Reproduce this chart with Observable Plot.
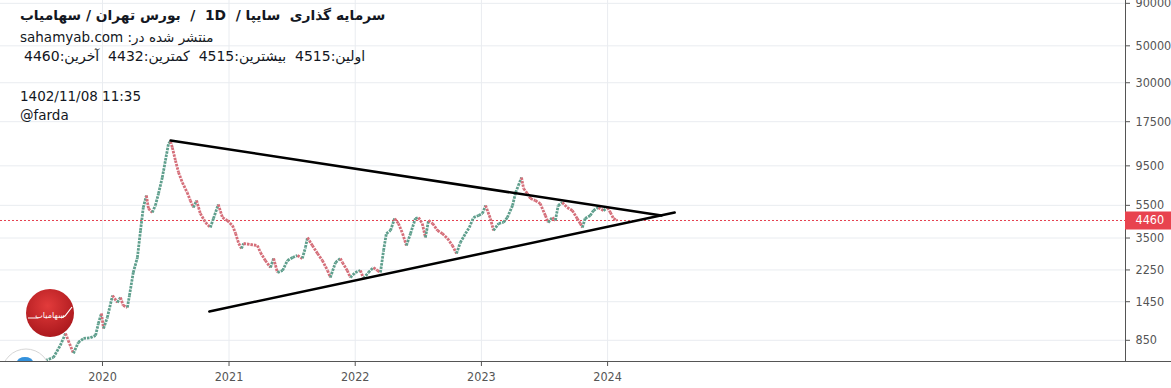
<!DOCTYPE html>
<html><head><meta charset="utf-8">
<script src="https://cdn.jsdelivr.net/npm/d3@7"></script>
<script src="https://cdn.jsdelivr.net/npm/@observablehq/plot@0.6"></script>
<style>
html,body{margin:0;padding:0;background:#fff;}
#wrap{position:relative;width:1171px;height:388px;overflow:hidden;}
.t{position:absolute;left:20px;white-space:pre;color:#131722;font-family:"DejaVu Sans",sans-serif;font-size:13.5px;line-height:18px;}
.rtl{direction:rtl;}
</style></head><body><div id="wrap"></div>
<script>
// ---- data ----
const dates = ["2019-07-20","2019-08-12","2019-09-01","2019-09-16","2019-09-24","2019-10-09","2019-10-23","2019-11-07","2019-11-27","2019-12-12","2019-12-20","2019-12-29",
"2020-01-04","2020-01-15","2020-01-30","2020-02-13","2020-02-22","2020-03-01","2020-03-13","2020-03-19","2020-03-30","2020-04-11","2020-04-20","2020-04-28","2020-05-07","2020-05-13","2020-05-24","2020-06-02","2020-06-11","2020-06-22","2020-07-01","2020-07-10","2020-07-16","2020-07-21","2020-07-30","2020-08-08","2020-08-19","2020-09-02","2020-09-11","2020-09-20","2020-09-29","2020-10-10","2020-10-25","2020-11-08","2020-11-17","2020-12-01","2020-12-13","2020-12-27",
"2021-01-11","2021-01-20","2021-01-29","2021-02-06","2021-02-12","2021-03-04","2021-03-24","2021-04-02","2021-04-16","2021-05-01","2021-05-10","2021-05-21","2021-06-05","2021-06-19","2021-07-04","2021-07-18","2021-08-01","2021-08-10","2021-08-16","2021-08-30","2021-09-14","2021-09-28","2021-10-13","2021-10-21","2021-11-05","2021-11-19","2021-11-25","2021-12-09","2021-12-18",
"2022-01-01","2022-01-16","2022-01-25","2022-02-08","2022-02-23","2022-03-06","2022-03-15","2022-03-24","2022-04-01","2022-04-13","2022-04-25","2022-05-06","2022-05-18","2022-05-29","2022-06-10","2022-06-24","2022-07-03","2022-07-14","2022-07-23","2022-08-01","2022-08-13","2022-08-27","2022-09-10","2022-09-25","2022-10-09","2022-10-21","2022-11-01","2022-11-16","2022-11-27","2022-12-09","2022-12-24",
"2023-01-04","2023-01-13","2023-01-27","2023-02-05","2023-02-20","2023-03-06","2023-03-17","2023-04-01","2023-04-10","2023-04-18","2023-04-27","2023-05-03","2023-05-14","2023-05-23","2023-06-06","2023-06-20","2023-07-05","2023-07-13","2023-07-25","2023-08-03","2023-08-11","2023-08-23","2023-09-06","2023-09-21","2023-10-05","2023-10-14","2023-10-20","2023-10-28","2023-11-12","2023-11-21","2023-12-05","2023-12-20",
"2024-01-01","2024-01-09","2024-01-18","2024-01-28"];
const closes = [643,670,792,934,848,709,825,872,880,909,1073,1233,
1001,1166,1581,1435,1537,1376,1338,1581,2172,2673,3884,5338,6302,5265,4982,5488,6479,8083,10226,12937,13300,12240,10226,8663,7545,6569,5881,5338,5881,4913,4338,4049,4585,5564,4648,4460,
4162,3725,3244,3027,3244,3200,3156,2864,2565,2328,2637,2172,2233,2565,2673,2748,2637,3069,3524,3156,2825,2565,2233,2027,2495,2637,2495,2233,2027,
2172,2233,2000,2172,2328,2233,2172,2945,3725,3884,4585,4279,3725,3156,3725,4585,4648,4279,3524,4460,4279,3884,3725,3477,3156,2825,3290,3725,4049,4648,4779,
4913,5488,4585,3884,4279,4350,4648,5488,6569,7237,8083,6943,6479,6046,5881,5642,4779,4338,4648,4460,5488,5720,5338,5121,4585,4279,4049,4585,4779,5121,5338,5121,
5338,4982,4585,4460];
const lastOpen = 4515, lastHigh = 4515, lastLow = 4432, lastClose = 4460;

const upperDates = ["2020-07-16","2024-06-05"];
const upperPrices = [13485,4779];
const lowerDates = ["2020-11-05","2024-07-13"];
const lowerPrices = [1267,4982];

const yTicks = [850,1450,2250,3500,5500,9500,17500,30000,50000,90000];
const xTickDates = ["2020-01-01","2021-01-01","2022-01-01","2023-01-01","2024-01-01"];
const xDomain = ["2019-03-12","2028-02-07"];
const yDomain = [634,93600];

const titleText = "سرمایه گذاری  سایپا /  1D  /  بورس تهران / سهامیاب";
const publishedText = "منتشر شده در: sahamyab.com";
const ohlcText = "اولین:4515  بیشترین:4515  کمترین:4432  آخرین:4460";
const timeText = "1402/11/08 11:35";
const userText = "@farda";

// ---- build ----
const parse = s => new Date(s + "T00:00:00Z");
const bars = dates.map((d, i) => {
  const last = i === dates.length - 1;
  const open = last ? lastOpen : (i > 0 ? closes[i - 1] : closes[i]);
  return {date: parse(d), open, close: closes[i], high: last ? lastHigh : Math.max(open, closes[i]), low: last ? lastLow : Math.min(open, closes[i])};
});
// one link per bar: from previous close to this close
const moves = bars.slice(1).map((b, i) => ({d1: bars[i].date, p1: bars[i].close, d2: b.date, p2: b.close, up: b.close >= bars[i].close}));
const upper = upperDates.map((d, i) => ({date: parse(d), price: upperPrices[i]}));
const lower = lowerDates.map((d, i) => ({date: parse(d), price: lowerPrices[i]}));
const GREEN = "#5f9f8d", RED = "#d56f7a", AXIS = "#555", GRID = "#e9ecf0";
const tickFont = "'DejaVu Sans Condensed','Liberation Sans Narrow','DejaVu Sans',sans-serif";
const xEnd = parse(xDomain[1]);

const chart = Plot.plot({
  width: 1171, height: 388,
  marginLeft: 0, marginRight: 46, marginTop: 0, marginBottom: 27,
  style: {background: "white", fontFamily: tickFont, fontSize: "12.5px", color: AXIS},
  x: {type: "utc", domain: xDomain.map(parse)},
  y: {type: "log", domain: yDomain},
  marks: [
    Plot.gridY(yTicks, {stroke: GRID, strokeOpacity: 1}),
    Plot.gridX(xTickDates.map(parse), {stroke: GRID, strokeOpacity: 1}),
    Plot.ruleY([lastClose], {stroke: "#e5404f", strokeDasharray: "2,2", strokeWidth: 1}),
    Plot.link(moves, {x1: "d1", y1: "p1", x2: "d2", y2: "p2", stroke: d => d.up ? GREEN : RED, strokeWidth: 2.8, strokeDasharray: "2.5,1", strokeLinecap: "butt", clip: true}),
    Plot.ruleX(bars.slice(-1), {x: "date", y1: "low", y2: "high", stroke: RED, strokeWidth: 1.2}),
    Plot.line(upper, {x: "date", y: "price", stroke: "#000", strokeWidth: 2.5}),
    Plot.line(lower, {x: "date", y: "price", stroke: "#000", strokeWidth: 2.5}),
    Plot.ruleX([xEnd], {stroke: AXIS, strokeWidth: 1}),
    Plot.ruleY([yDomain[0]], {stroke: AXIS, strokeWidth: 1, insetRight: -46}),
    Plot.ruleY(yTicks, {stroke: AXIS, strokeWidth: 1, insetLeft: 1125, insetRight: -5}),
    Plot.text(yTicks, {x: xEnd, y: d => d, text: d => String(d), dx: 10, textAnchor: "start", fill: AXIS}),
    Plot.axisX(xTickDates.map(parse), {anchor: "bottom", tickSize: 5, tickPadding: 6, tickFormat: "%Y", stroke: AXIS, fill: AXIS, label: null}),
    Plot.ruleY([lastClose], {stroke: "#e8434f", strokeWidth: 18, insetLeft: 1125, insetRight: -46}),
    Plot.text([lastClose], {x: xEnd, y: d => d, text: d => String(d), dx: 10, textAnchor: "start", fill: "white", fontSize: 12.5})
  ]
});

const wrap = document.getElementById("wrap");
wrap.appendChild(chart);

// logo decorations
const svg = d3.select(chart);
const defs = svg.append("defs");
const g = defs.append("radialGradient").attr("id", "lg").attr("cx", "45%").attr("cy", "35%").attr("r", "70%");
g.append("stop").attr("offset", "0%").attr("stop-color", "#e23b3b");
g.append("stop").attr("offset", "100%").attr("stop-color", "#a8161b");
defs.append("clipPath").attr("id", "pc").append("rect").attr("x", 0).attr("y", 0).attr("width", 1125).attr("height", 361);
const lg = svg.append("g");
lg.append("circle").attr("cx", 50).attr("cy", 313).attr("r", 24).attr("fill", "url(#lg)");
lg.append("path").attr("d", "M28,318 L38,318 M61,318 L65,316 L72,307").attr("stroke", "white").attr("stroke-width", 1.2).attr("fill", "none");
lg.append("text").attr("x", 50).attr("y", 318).attr("text-anchor", "middle").attr("fill", "white").attr("font-family", "DejaVu Sans").attr("font-size", 8).text("سهامیاب");
const bc = svg.append("g").attr("clip-path", "url(#pc)");
bc.append("circle").attr("cx", 26).attr("cy", 373).attr("r", 24).attr("fill", "white").attr("stroke", "#d6d6d6").attr("stroke-width", 1);
bc.append("ellipse").attr("cx", 25).attr("cy", 362).attr("rx", 8).attr("ry", 5).attr("fill", "#3391dc");

// texts overlaid on chart
function addText(txt, top, cls, extra) {
  const d = document.createElement("div");
  d.className = "t " + (cls || "");
  d.style.top = top + "px";
  Object.assign(d.style, extra || {});
  d.textContent = txt;
  wrap.appendChild(d);
}
addText(titleText, 6, "rtl", {fontWeight: "bold", fontSize: "13.8px"});
addText(publishedText, 28, "rtl");
addText(ohlcText, 47, "rtl", {left: "24px", fontSize: "14px"});
addText(timeText, 87, "");
addText(userText, 106, "");
</script>
</body></html>
